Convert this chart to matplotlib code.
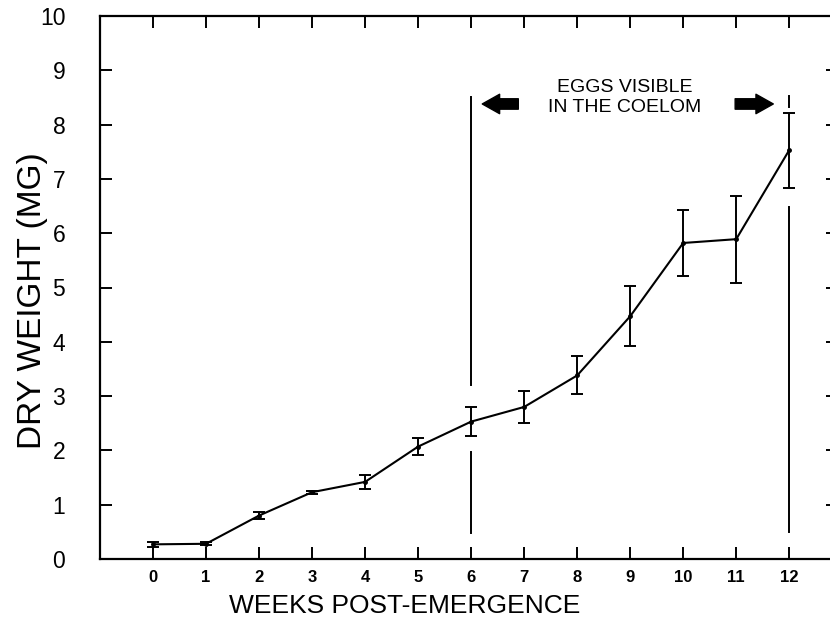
import matplotlib
matplotlib.use("Agg")
import matplotlib.pyplot as plt

plt.rcParams["font.family"] = ["Liberation Sans", "DejaVu Sans"]

weeks = [0, 1, 2, 3, 4, 5, 6, 7, 8, 9, 10, 11, 12]
dry_weight = [0.27, 0.28, 0.80, 1.23, 1.42, 2.07, 2.53, 2.80, 3.38, 4.47, 5.82, 5.89, 7.53]
sem = [0.05, 0.03, 0.06, 0.03, 0.13, 0.16, 0.27, 0.29, 0.35, 0.55, 0.60, 0.80, 0.69]

# marker lines bounding the egg-visible period: (x, y_start, y_end) segments
egg_segments = [(6, 3.2, 8.5), (6, 0.48, 1.97), (12, 8.33, 8.52), (12, 0.5, 6.48)]

fig = plt.figure(figsize=(8.3, 6.29), dpi=100)
ax = fig.add_axes([100 / 830, 70 / 629, 738 / 830, 543 / 629])

ax.errorbar(weeks, dry_weight, yerr=sem, color="black", lw=1.5, marker="o",
            markersize=2.5, elinewidth=1.4, capsize=4.5, capthick=1.4)

for x, y0, y1 in egg_segments:
    ax.plot([x, x], [y0, y1], color="black", lw=1.4)

arrow = dict(arrowstyle="simple,head_width=1.4,head_length=1.25,tail_width=0.75",
             fc="black", ec="black", shrinkA=0, shrinkB=0)
ax.annotate("", xy=(6.21, 8.38), xytext=(6.89, 8.38), arrowprops=arrow)
ax.annotate("", xy=(11.7, 8.38), xytext=(10.98, 8.38), arrowprops=arrow)
ax.text(8.9, 8.5, "EGGS VISIBLE\nIN THE COELOM", ha="center", va="center",
        fontsize=14, linespacing=1.2)

ax.set_xlim(-1, 12.92)
ax.set_ylim(0, 10)
ax.set_xticks(weeks)
ax.set_yticks(range(11))
ax.tick_params(axis="both", direction="in", length=8.5, width=1.4,
               top=True, right=True, colors="black")
ax.tick_params(axis="x", labelsize=12, pad=8)
ax.tick_params(axis="y", labelsize=16.5, pad=25)
for lab in ax.get_xticklabels():
    lab.set_fontweight("bold")
for s in ax.spines.values():
    s.set_linewidth(1.6)

ax.set_xlabel("WEEKS POST-EMERGENCE", fontsize=19)
ax.xaxis.set_label_coords(0.413, -0.065)
ax.set_ylabel("DRY WEIGHT (MG)", fontsize=24)
ax.yaxis.set_label_coords(-0.07, 0.475)

fig.savefig("out.png", dpi=100)
